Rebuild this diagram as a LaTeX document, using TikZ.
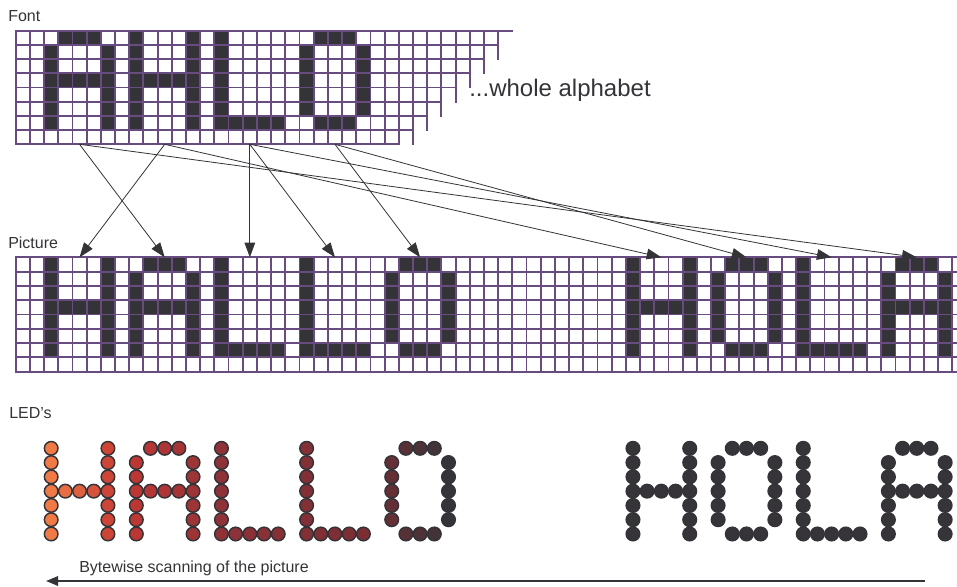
\documentclass[tikz,border=0pt]{standalone}
\usepackage{fontspec}
\setmainfont{Liberation Sans}
\usetikzlibrary{arrows.meta}
\definecolor{gridc}{RGB}{104,76,128}
\definecolor{pixc}{RGB}{52,51,56}
\definecolor{ledA}{RGB}{240,122,70}
\definecolor{ledB}{RGB}{196,56,50}
\definecolor{ledC}{RGB}{142,50,56}
\definecolor{ledD}{RGB}{122,46,52}
\definecolor{ledE}{RGB}{55,52,57}
\newcommand{\cw}{14.19}
% 5x7 letters as column/row pairs
\def\glyphA{0/1,0/2,0/3,0/4,0/5,0/6,4/1,4/2,4/3,4/4,4/5,4/6,1/0,2/0,3/0,1/3,2/3,3/3}
\def\glyphH{0/0,0/1,0/2,0/3,0/4,0/5,0/6,4/0,4/1,4/2,4/3,4/4,4/5,4/6,1/3,2/3,3/3}
\def\glyphL{0/0,0/1,0/2,0/3,0/4,0/5,0/6,1/6,2/6,3/6,4/6}
\def\glyphO{0/1,0/2,0/3,0/4,0/5,4/1,4/2,4/3,4/4,4/5,1/0,2/0,3/0,1/6,2/6,3/6}
\newcommand{\pixletter}[4]{%
  \foreach \c/\r in #1 {\fill[pixc] ({15.7+(#2+\c)*\cw},{#3+\r*#4}) rectangle ++(\cw,#4);}}
\newcommand{\ledcolor}[1]{%
  \pgfmathsetmacro\lc{#1}%
  \ifdim\lc pt<7pt \pgfmathsetmacro\lp{100*(\lc-2)/5}\colorlet{ledc}{ledB!\lp!ledA}%
  \else\ifdim\lc pt<14pt \pgfmathsetmacro\lp{100*(\lc-7)/7}\colorlet{ledc}{ledC!\lp!ledB}%
  \else\ifdim\lc pt<24pt \pgfmathsetmacro\lp{100*(\lc-14)/10}\colorlet{ledc}{ledD!\lp!ledC}%
  \else\ifdim\lc pt<31pt \pgfmathsetmacro\lp{100*(\lc-24)/6}\colorlet{ledc}{ledE!\lp!ledD}%
  \else \colorlet{ledc}{ledE}%
  \fi\fi\fi\fi}
\newcommand{\ledletter}[2]{%
  \foreach \c/\r in #1 {\ledcolor{#2+\c}%
    \filldraw[led,fill=ledc] ({15.7+(#2+\c+0.5)*\cw},{448.3+\r*14.28}) circle (5.1pt);}}
\tikzset{
  gridln/.style={draw=gridc,line width=1.4pt,line cap=rect},
  led/.style={draw=pixc,line width=1.1pt},
  fl/.style={-{Triangle[length=11pt,width=8pt]},draw=pixc,line width=0.6pt},
  scanfl/.style={-{Triangle[length=9pt,width=7pt]},draw=pixc,line width=1.6pt},
  lbl/.style={font=\fontsize{12}{14}\selectfont,text=pixc,inner sep=0pt},
  big/.style={font=\fontsize{18}{21}\selectfont,text=pixc,inner sep=0pt},
}
\begin{document}
\begin{tikzpicture}[x=0.75pt,y=-0.75pt]
  \useasboundingbox (0,0) rectangle (957,586);
  \node[lbl,anchor=base west] (font) at (8,21) {Font};
  \node[big,anchor=base west] (alpha) at (469,96) {...whole alphabet};
  \node[lbl,anchor=base west] (pic) at (8,248) {Picture};
  \node[lbl,anchor=base west] (leds) at (9,418) {LED's};
  % font sheet
  \pixletter{\glyphA}{2}{31}{14.12}
  \pixletter{\glyphH}{8}{31}{14.12}
  \pixletter{\glyphL}{14}{31}{14.12}
  \pixletter{\glyphO}{20}{31}{14.12}
  \foreach \j in {0,...,8}
    \draw[gridln] (15.7,{31+\j*14.12}) -- ({15.7+(35-\j)*\cw},{31+\j*14.12});
  \foreach \i in {0,...,34} {
    \pgfmathtruncatemacro\e{min(8,36-\i)}
    \draw[gridln] ({15.7+\i*\cw},31) -- ({15.7+\i*\cw},{31+\e*14.12});
  }
  % picture
  \begin{scope}
    \clip (0,0) rectangle (957,586);
    \pixletter{\glyphH}{2}{257.3}{14.3}
    \pixletter{\glyphA}{8}{257.3}{14.3}
    \pixletter{\glyphL}{14}{257.3}{14.3}
    \pixletter{\glyphL}{20}{257.3}{14.3}
    \pixletter{\glyphO}{26}{257.3}{14.3}
    \pixletter{\glyphH}{43}{257.3}{14.3}
    \pixletter{\glyphO}{49}{257.3}{14.3}
    \pixletter{\glyphL}{55}{257.3}{14.3}
    \pixletter{\glyphA}{61}{257.3}{14.3}
    \foreach \j in {0,...,8}
      \draw[gridln] (15.7,{257.3+\j*14.3}) -- (965,{257.3+\j*14.3});
    \foreach \i in {0,...,66}
      \draw[gridln] ({15.7+\i*\cw},257.3) -- ++(0,{8*14.3});
  \end{scope}
  % letter anchors
  \coordinate (fA) at ({15.7+4.5*\cw},144.3);
  \coordinate (fH) at ({15.7+10.5*\cw},144.3);
  \coordinate (fL) at ({15.7+16.5*\cw},144.3);
  \coordinate (fO) at ({15.7+22.5*\cw},144.3);
  \coordinate (pH) at ({15.7+4.5*\cw},257.3);
  \coordinate (pA) at ({15.7+10.5*\cw},257.3);
  \coordinate (pL) at ({15.7+16.5*\cw},257.3);
  \coordinate (pLL) at ({15.7+22.5*\cw},257.3);
  \coordinate (pO) at ({15.7+28.5*\cw},257.3);
  \coordinate (qH) at ({15.7+45.5*\cw},257.3);
  \coordinate (qO) at ({15.7+51.5*\cw},257.3);
  \coordinate (qL) at ({15.7+57.5*\cw},257.3);
  \coordinate (qA) at ({15.7+63.5*\cw},257.3);
  \draw[fl] (fA) -- (pA); \draw[fl] (fA) -- (qA);
  \draw[fl] (fH) -- (pH); \draw[fl] (fH) -- (qH);
  \draw[fl] (fL) -- (pL); \draw[fl] (fL) -- (pLL); \draw[fl] (fL) -- (qL);
  \draw[fl] (fO) -- (pO); \draw[fl] (fO) -- (qO);
  % LED's
  \ledletter{\glyphH}{2}
  \ledletter{\glyphA}{8}
  \ledletter{\glyphL}{14}
  \ledletter{\glyphL}{20}
  \ledletter{\glyphO}{26}
  \ledletter{\glyphH}{43}
  \ledletter{\glyphO}{49}
  \ledletter{\glyphL}{55}
  \ledletter{\glyphA}{61}
  \node[lbl,anchor=base west] (scan) at (79,572) {Bytewise scanning of the picture};
  \coordinate (scanR) at (925,581);
  \coordinate (scanL) at (46,581);
  \draw[scanfl] (scanR) -- (scanL);
\end{tikzpicture}
\end{document}
